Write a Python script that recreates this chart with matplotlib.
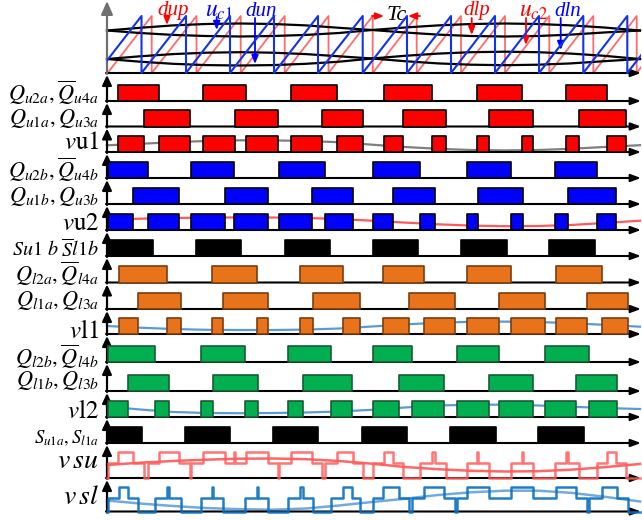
import matplotlib.pyplot as plt
from matplotlib.patches import Rectangle

plt.rcParams['font.family'] = ['Liberation Serif', 'DejaVu Serif']
plt.rcParams['mathtext.fontset'] = 'stix'

# time runs in picture units, the time axis starts at T0
T0, T1 = 107, 641

# ---- carrier panel ----
blue_drops = [141.5, 186, 230, 274, 318, 362.7, 407, 451, 495, 539, 583.3, 627.3]
red_drops = [151.7, 196.5, 240.7, 284.7, 328.5, 372.7, 416.7, 461, 505, 549.3, 593.3, 636.7]
carrier_peak = 57

ref_t = [107, 140, 173, 206, 240, 273, 306, 339, 372, 405, 438, 471, 505, 538, 571, 604, 640]
env_up_a = [42.5, 45.2, 47.6, 49, 49.5, 49, 47.6, 45.2, 43, 40.5, 38.4, 37, 36.5, 37, 38.4, 40.5, 42.5]
env_up_b = [42.5, 40, 38.1, 37, 36.5, 37, 38.1, 40, 43, 45.5, 47.6, 49, 49.5, 49, 47.6, 45.5, 42.5]
env_lo_a = [14, 16.7, 18.9, 20.3, 20.8, 20.3, 18.9, 16.7, 14.5, 11.8, 9.6, 8.3, 7.8, 8.3, 9.6, 11.8, 14]
env_lo_b = [14, 11.3, 9.2, 7.9, 7.5, 7.9, 9.2, 11.3, 14.5, 17.2, 19.4, 20.8, 21.3, 20.8, 19.4, 17.2, 14]

# ---- switching signals (on-intervals) ----
Qu2a = [(118, 159), (203, 246), (291, 337), (384, 432), (477, 522), (566, 607)]
Qu1a = [(144, 190), (235, 278), (322, 363), (403, 446), (489, 533), (579, 626)]
vu1 = [(118, 144), (159, 190), (203, 235), (246, 278), (291, 322), (337, 363),
       (384, 403), (432, 446), (477, 489), (522, 533), (566, 579), (607, 626)]
Qu2b = [(108, 148), (191, 234), (279, 325), (373, 420), (467, 511), (555, 597)]
Qu1b = [(133, 179), (225, 268), (312, 353), (393, 435), (478, 523), (568, 616)]
vu2 = [(108, 133), (148, 179), (191, 225), (234, 268), (279, 312), (325, 353),
       (373, 393), (420, 435), (467, 478), (511, 523), (555, 568), (597, 616)]
Su1b = [(108, 153), (196, 241), (285, 330), (373, 418), (461, 507), (549, 595)]
Ql2a = [(119, 167), (212, 257), (300, 343), (383, 424), (467, 511), (556, 602)]
Ql1a = [(138, 181), (223, 268), (313, 360), (409, 455), (499, 545), (587, 628)]
vl1 = [(119, 138), (167, 181), (212, 223), (257, 268), (300, 313), (343, 360),
       (383, 409), (424, 455), (467, 499), (511, 545), (556, 587), (602, 628)]
Ql2b = [(108, 155), (201, 245), (288, 331), (373, 412), (457, 499), (545, 589)]
Ql1b = [(128, 169), (213, 258), (303, 352), (399, 444), (489, 533), (576, 617)]
vl2 = [(108, 128), (155, 169), (201, 213), (245, 258), (288, 303), (331, 352),
       (373, 399), (412, 444), (457, 489), (499, 533), (545, 576), (589, 617)]
Su1a = [(108, 142), (185, 230), (273, 318), (362, 407), (450, 496), (538, 584)]

# reference curves drawn over the output voltages (height above baseline)
vu1_ref = [6.7, 8.2, 9.8, 11, 11.7, 11.6, 11, 9.8, 7.3, 5, 3.2, 2, 1.6, 2, 3.2, 5, 6.8]
vu2_ref = [10.5, 11.3, 12, 12.4, 12.6, 12.5, 12, 11, 9.3, 7.4, 5.7, 4.4, 3.8, 4, 5, 7, 9.3]
vl1_ref = [8, 6.3, 5, 4.2, 4, 4, 4.4, 5.5, 7.5, 9.6, 11.3, 12.2, 12.4, 12, 10.8, 9.2, 7.3]
vl2_ref = [10.5, 7.5, 5, 4, 3.8, 4, 4.5, 5.5, 7.2, 9.5, 11.5, 12.3, 12.3, 11.5, 10.3, 9, 8]
vsu_ref = [13, 15.3, 17, 18.3, 19.3, 19.5, 18.8, 17, 14.3, 11, 8.8, 7.2, 6.5, 6.8, 8.3, 10.8, 14]
vsl_ref = [11, 8, 5.5, 3.5, 2.3, 1.8, 3, 6, 9.5, 12.8, 16.5, 19.2, 20.8, 20.8, 18.7, 14.8, 10]

labels = [r"$Q_{u2a},\overline{Q}_{u4a}$", r"$Q_{u1a},Q_{u3a}$", r"$v\mathrm{u1}$",
          r"$Q_{u2b},\overline{Q}_{u4b}$", r"$Q_{u1b},Q_{u3b}$", r"$v\mathrm{u2}$",
          r"$\mathit{Su1\ b\ }\overline{\mathit{S}}\mathit{l1b}$",
          r"$Q_{l2a},\overline{Q}_{l4a}$", r"$Q_{l1a},Q_{l3a}$", r"$v\mathrm{l1}$",
          r"$Q_{l2b},\overline{Q}_{l4b}$", r"$Q_{l1b},Q_{l3b}$", r"$v\mathrm{l2}$",
          r"$S_{u1a},S_{l1a}$", r"$v\,su$", r"$v\,sl$"]

# ---- layout ----
base0 = 73
bases = [101, 126.5, 152, 178, 204, 230, 256, 282.5, 309, 334, 362, 391, 417, 443, 478, 511.5]
label_y = [93, 118, 143, 170, 196, 224, 250, 274, 300, 332, 357, 381, 412, 438, 462, 497]
label_fs = [16, 16, 18, 16, 16, 18, 14.5, 16, 16, 18, 16, 16, 18, 13.5, 20, 20]
pulse_h = 16.5

RED, BLUE, ORANGE, GREEN = '#ff0000', '#0000ff', '#e8731a', '#00b050'
pulse_rows = [(Qu2a, RED, 'k'), (Qu1a, RED, 'k'), (vu1, RED, 'k'),
              (Qu2b, BLUE, 'k'), (Qu1b, BLUE, 'k'), (vu2, BLUE, 'k'),
              (Su1b, 'k', 'k'),
              (Ql2a, ORANGE, '#7a3d12'), (Ql1a, ORANGE, '#7a3d12'), (vl1, ORANGE, '#7a3d12'),
              (Ql2b, GREEN, '#1d5a33'), (Ql1b, GREEN, '#1d5a33'), (vl2, GREEN, '#1d5a33'),
              (Su1a, 'k', 'k')]
ref_rows = {2: (vu1_ref, '#7f7f7f'), 5: (vu2_ref, '#ff5a5a'),
            9: (vl1_ref, '#5b9bd5'), 12: (vl2_ref, '#5b9bd5')}

fig = plt.figure(figsize=(6.42, 5.2), dpi=100)
ax = fig.add_axes([0, 0, 1, 1])
ax.set_xlim(0, 642)
ax.set_ylim(520, 0)
ax.axis('off')

clip = Rectangle((T0, 0), T1 - T0, 80, transform=ax.transData)


def axis_arrows(base, top, vcolor='k', big=False):
    ax.annotate('', xy=(T1, base), xytext=(T0 - 1, base),
                arrowprops=dict(arrowstyle='-|>,head_length=0.6,head_width=0.22',
                                color='k', lw=1.5, shrinkA=0, shrinkB=0))
    hs = '-|>,head_length=0.8,head_width=0.35' if big else '-|>,head_length=0.6,head_width=0.28'
    ax.annotate('', xy=(T0, top), xytext=(T0, base + 1),
                arrowprops=dict(arrowstyle=hs, color=vcolor, lw=1.6, shrinkA=0, shrinkB=0))


def sawtooth(drops):
    period = (drops[-1] - drops[0]) / (len(drops) - 1)
    xs, ys = [], []
    start = drops[0] - period
    for d in drops:
        xs += [start, d, d]
        ys += [base0, base0 - carrier_peak, base0]
        start = d
    xs += [start, start + period]
    ys += [base0, base0 - carrier_peak]
    return xs, ys


def level_steps(groups, levels):
    edges = sorted({T0, 640} | {e for g in groups for iv in g for e in iv})
    xs, ys = [], []
    for a, b in zip(edges[:-1], edges[1:]):
        m = (a + b) / 2
        n = sum(any(s <= m < e for s, e in g) for g in groups)
        xs += [a, b]
        ys += [levels[n], levels[n]]
    return xs, ys


# carrier panel
for env in (env_up_a, env_up_b, env_lo_a, env_lo_b):
    ax.plot(ref_t, [base0 - h for h in env], color='k', lw=1.6, zorder=3)
bx, by = sawtooth(blue_drops)
ln, = ax.plot(bx, by, color='#1533e6', lw=1.5, zorder=4)
ln.set_clip_path(clip)
rx, ry = sawtooth(red_drops)
ln, = ax.plot(rx, ry, color='#ff6b6b', lw=1.3, zorder=2)
ln.set_clip_path(clip)
axis_arrows(base0, 1, vcolor='#707070', big=True)

notes = [('dup', 173, 11, 'red', 167, 17, 25), (r'$u_{c1}$', 219, 12, 'blue', 216.7, 17, 30),
         ('dun', 261, 11, 'blue', 255, 18, 64), ('dlp', 477, 11, 'red', 471.7, 18, 35),
         (r'$u_{c2}$', 533, 12, 'red', 526, 18, 45), ('dln', 568, 11, 'blue', 560.7, 18, 50)]
for txt, tx, ty, col, axx, y0, y1 in notes:
    fs = 17 if txt.startswith('$') else 15
    ax.text(tx, ty, txt, color=col, fontsize=fs, style='italic', ha='center', va='center')
    ax.annotate('', xy=(axx, y1), xytext=(axx, y0),
                arrowprops=dict(arrowstyle='-|>,head_length=0.5,head_width=0.2',
                                color=col, lw=1.3, shrinkA=0, shrinkB=0))
ax.text(397, 15, 'Tc', fontsize=16, style='italic', ha='center', va='center')
for a, b in ((372, 384), (420, 408)):
    ax.annotate('', xy=(b, 16), xytext=(a, 16),
                arrowprops=dict(arrowstyle='-|>,head_length=0.5,head_width=0.2',
                                color='red', lw=1.3, shrinkA=0, shrinkB=0))

# pulse rows
prev = base0
for i, base in enumerate(bases):
    axis_arrows(base, prev + 2)
    prev = base
    ax.text(99, label_y[i], labels[i], fontsize=label_fs[i], ha='right', va='center')
    if i in ref_rows:
        vals, col = ref_rows[i]
        ax.plot(ref_t, [base - v for v in vals], color=col, lw=1.6, zorder=2)
    if i < len(pulse_rows):
        ivs, fc, ec = pulse_rows[i]
        ax.broken_barh([(a, b - a) for a, b in ivs], (base - pulse_h, pulse_h),
                       facecolor=fc, edgecolor=ec, lw=1.2, zorder=3)

# multilevel output voltages
sx, sy = level_steps([vu1, vu2], [bases[14], bases[14] - 15, bases[14] - 26])
ax.plot(sx, sy, color='#ff5c5c', lw=1.8, alpha=0.85, zorder=3)
ax.plot(ref_t, [bases[14] - v for v in vsu_ref], color='#ff4040', lw=1.8, alpha=0.8, zorder=2)
sx, sy = level_steps([vl1, vl2], [bases[15], bases[15] - 13.5, bases[15] - 24.5])
ax.plot(sx, sy, color='#0a6fc2', lw=1.8, alpha=0.9, zorder=3)
ax.plot(ref_t, [bases[15] - v for v in vsl_ref], color='#5b9bd5', lw=1.8, alpha=0.85, zorder=2)

fig.savefig('out.png', dpi=100)
